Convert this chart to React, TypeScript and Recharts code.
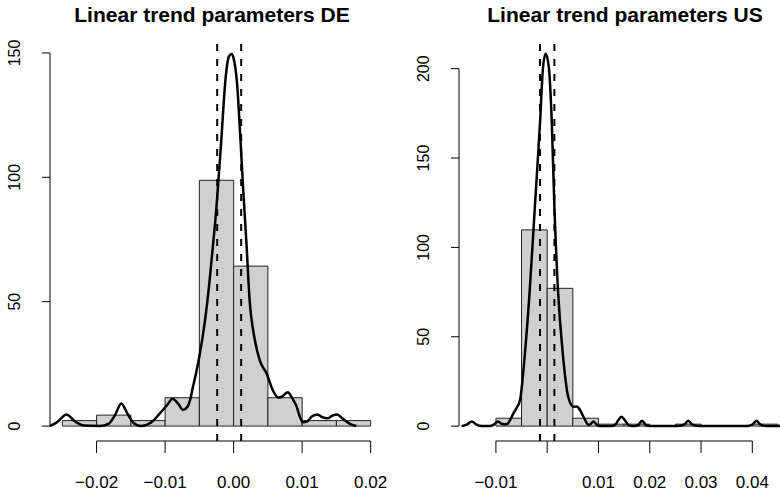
import React from "react";
import {
  ComposedChart,
  Line,
  XAxis,
  YAxis,
  ReferenceArea,
  ReferenceLine,
} from "recharts";

const FONT = "'Liberation Sans', Arial, Helvetica, sans-serif";
const BIN_WIDTH = 0.005;

// Germany: histogram (density scale), kernel density, two dashed markers
const deBinStarts = [-0.025, -0.02, -0.015, -0.01, -0.005, 0, 0.005, 0.01, 0.015];
const deBinDensity = [2.2, 4.4, 2.2, 11.4, 98.8, 64.3, 11.4, 2.2, 2.2];
const deMarkers = [-0.0024, 0.0011];
const deXTicks = [-0.02, -0.01, 0, 0.01, 0.02];
const deXLabels = ["\u22120.02", "\u22120.01", "0.00", "0.01", "0.02"];
const deYTicks = [0, 50, 100, 150];
const deCurveX = [
  -0.0269, -0.0258, -0.0244, -0.0232, -0.0218, -0.0196, -0.0182, -0.0173, -0.0164,
  -0.0155, -0.0145, -0.0135, -0.012, -0.0108, -0.0097, -0.0089, -0.0081, -0.0074,
  -0.0068, -0.0064, -0.006, -0.0055, -0.005, -0.0042, -0.0035, -0.003, -0.0025,
  -0.0018, -0.0012, -0.0007, -0.0003, 0, 0.0005, 0.001, 0.0014, 0.0019, 0.0023,
  0.0031, 0.0038, 0.0048, 0.0057, 0.0065, 0.007, 0.0079, 0.0086, 0.0092, 0.0097,
  0.0101, 0.0107, 0.0114, 0.0122, 0.0129, 0.0137, 0.0144, 0.0151, 0.0159, 0.0169,
  0.0179,
];
const deCurveY = [
  0, 1.5, 4.7, 2, 0.2, 0, 1, 4.5, 9.1, 5, 1, 0, 1.5, 5, 8.5, 11, 9, 6.5, 7.5, 10, 15,
  21, 28, 42, 58.7, 73, 88.2, 115, 139, 148.5, 149.6, 147.8, 137.8, 115, 94.9, 72.1,
  52, 34.6, 26.5, 21.2, 14.5, 11.5, 11.8, 13.6, 11, 7.8, 3.5, 1.5, 1.8, 3.8, 4.7, 3.6,
  3.1, 4.2, 4.7, 3, 1, 0,
];

// United States
const usBinStarts = [-0.01, -0.005, 0, 0.005, 0.01, 0.015, 0.025, 0.04];
const usBinDensity = [4.4, 109.8, 77.1, 4.4, 1.1, 1.1, 1.1, 1.1];
const usMarkers = [-0.0014, 0.0014];
const usXTicks = [-0.01, 0, 0.01, 0.02, 0.03, 0.04];
const usXLabels = ["\u22120.01", "", "0.01", "0.02", "0.03", "0.04"];
const usYTicks = [0, 50, 100, 150, 200];
const usCurveX = [
  -0.0167, -0.0157, -0.0147, -0.0138, -0.0128, -0.0112, -0.0104, -0.0096, -0.0088,
  -0.0079, -0.0072, -0.0066, -0.006, -0.0053, -0.0044, -0.0034, -0.0024, -0.0014,
  -0.0008, -0.0003, 0.0003, 0.0009, 0.0014, 0.0021, 0.0031, 0.0041, 0.0051, 0.0058,
  0.0064, 0.0074, 0.008, 0.0085, 0.009, 0.0096, 0.0103, 0.0126, 0.0134, 0.0139,
  0.0145, 0.0151, 0.0157, 0.0165, 0.0177, 0.0185, 0.0193, 0.0207, 0.0252, 0.0267,
  0.0275, 0.0283, 0.0298, 0.0389, 0.04, 0.0408, 0.0416, 0.0428, 0.0454,
];
const usCurveY = [
  0, 0.8, 2.6, 0.8, 0, 0, 0.8, 2.6, 1.2, 1, 3.5, 7.1, 10, 14.6, 38.8, 76.2, 122.9,
  169.6, 201.3, 208.4, 201.3, 169.6, 122.9, 76.2, 38.8, 16.4, 10.8, 11, 9, 3.4, 0.8,
  1.2, 2.6, 1, 0, 0, 1.2, 3.5, 5.2, 3.5, 1, 0, 0.5, 3, 0.5, 0, 0, 0.8, 3, 0.8, 0, 0,
  0.8, 3, 0.8, 0, 0,
];

const toPoints = (xs: number[], ys: number[]) => xs.map((x, i) => ({ x, y: ys[i] }));

const RotatedTick = (props: any) => {
  const { x, y, payload } = props;
  return (
    <text
      x={x}
      y={y}
      transform={`rotate(-90, ${x}, ${y})`}
      textAnchor="middle"
      fontSize={16}
      fontFamily={FONT}
      fill="#000"
    >
      {payload.value}
    </text>
  );
};

const BottomTick = (props: any) => {
  const { x, y, payload, labels, ticks } = props;
  const i = ticks.findIndex((t: number) => Math.abs(t - payload.value) < 1e-9);
  return (
    <text
      x={x}
      y={y}
      dy="0.72em"
      textAnchor="middle"
      fontSize={17}
      fontFamily={FONT}
      fill="#000"
    >
      {i >= 0 ? labels[i] : ""}
    </text>
  );
};

type PanelProps = {
  title: string;
  titleCenter: number;
  left: number;
  width: number;
  yAxisWidth: number;
  rightMargin: number;
  topMargin: number;
  xDomain: [number, number];
  yDomain: [number, number];
  binStarts: number[];
  binDensity: number[];
  markers: number[];
  xTicks: number[];
  xLabels: string[];
  yTicks: number[];
  curve: { x: number; y: number }[];
};

const Panel = (p: PanelProps) => {
  return (
    <>
      <div
        style={{
          position: "absolute",
          left: p.titleCenter - 200,
          top: 4,
          width: 400,
          textAlign: "center",
          fontFamily: FONT,
          fontWeight: "bold",
          fontSize: 21,
          lineHeight: "21px",
          color: "#000",
        }}
      >
        {p.title}
      </div>
      <div style={{ position: "absolute", left: p.left, top: 0 }}>
        <ComposedChart
          width={p.width}
          height={494}
          data={p.curve}
          margin={{ top: p.topMargin, right: p.rightMargin, bottom: 0, left: 0 }}
        >
          <XAxis
            type="number"
            dataKey="x"
            domain={p.xDomain}
            allowDataOverflow
            ticks={p.xTicks}
            interval={0}
            axisLine={false}
            tickSize={12}
            tickMargin={23}
            tickLine={{ stroke: "#000" }}
            tick={<BottomTick labels={p.xLabels} ticks={p.xTicks} />}
            height={53}
          />
          <YAxis
            type="number"
            domain={p.yDomain}
            allowDataOverflow
            ticks={p.yTicks}
            interval={0}
            axisLine={false}
            tickSize={8}
            tickMargin={22}
            tickLine={{ stroke: "#000" }}
            tick={<RotatedTick />}
            width={p.yAxisWidth}
          />
          {p.binStarts.map((s, i) => (
            <ReferenceArea
              key={`bin-${i}`}
              x1={s}
              x2={s + BIN_WIDTH}
              y1={0}
              y2={p.binDensity[i]}
              fill="#D0D0D0"
              fillOpacity={1}
              stroke="#222"
              strokeWidth={1}
              ifOverflow="visible"
            />
          ))}
          <ReferenceLine
            segment={[
              { x: p.xDomain[0], y: p.yTicks[0] },
              { x: p.xDomain[0], y: p.yTicks[p.yTicks.length - 1] },
            ]}
            stroke="#000"
            strokeWidth={1}
            ifOverflow="visible"
          />
          <ReferenceLine
            segment={[
              { x: p.xTicks[0], y: p.yDomain[0] },
              { x: p.xTicks[p.xTicks.length - 1], y: p.yDomain[0] },
            ]}
            stroke="#000"
            strokeWidth={1}
            ifOverflow="visible"
          />
          <Line
            type="monotone"
            dataKey="y"
            stroke="#000"
            strokeWidth={2.5}
            dot={false}
            activeDot={false}
            isAnimationActive={false}
          />
          {p.markers.map((m, i) => (
            <ReferenceLine
              key={`mark-${i}`}
              x={m}
              stroke="#000"
              strokeWidth={2}
              strokeDasharray="7 8"
            />
          ))}
        </ComposedChart>
      </div>
    </>
  );
};

export default function App() {
  return (
    <div
      style={{
        position: "absolute",
        left: 0,
        top: 0,
        width: 780,
        height: 494,
        overflow: "hidden",
        background: "#fff",
      }}
    >
      <Panel
        title="Linear trend parameters DE"
        titleCenter={212}
        left={0}
        width={390}
        yAxisWidth={50}
        rightMargin={7}
        topMargin={38}
        xDomain={[-0.0268, 0.0218]}
        yDomain={[-6, 156]}
        binStarts={deBinStarts}
        binDensity={deBinDensity}
        markers={deMarkers}
        xTicks={deXTicks}
        xLabels={deXLabels}
        yTicks={deYTicks}
        curve={toPoints(deCurveX, deCurveY)}
      />
      <Panel
        title="Linear trend parameters US"
        titleCenter={625}
        left={390}
        width={390}
        yAxisWidth={69}
        rightMargin={0}
        topMargin={39}
        xDomain={[-0.0172, 0.0454]}
        yDomain={[-8.33, 216.6]}
        binStarts={usBinStarts}
        binDensity={usBinDensity}
        markers={usMarkers}
        xTicks={usXTicks}
        xLabels={usXLabels}
        yTicks={usYTicks}
        curve={toPoints(usCurveX, usCurveY)}
      />
    </div>
  );
}
